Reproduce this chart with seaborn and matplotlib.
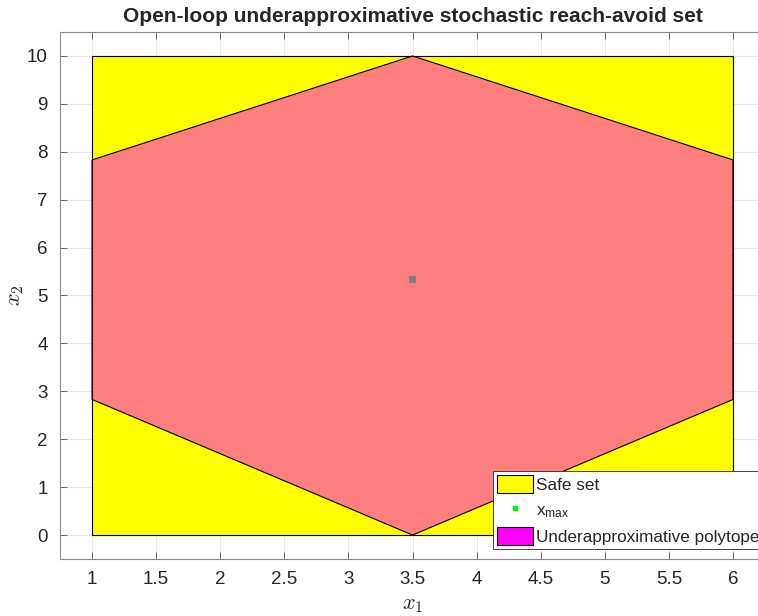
import matplotlib
matplotlib.use("Agg")
import matplotlib.pyplot as plt
import seaborn as sns
import pandas as pd
from matplotlib.patches import Patch
from matplotlib.lines import Line2D

# safe set box and underapproximative polytope
safe_x = [1, 6, 6, 1]
safe_y = [0, 0, 10, 10]
poly_x = [1, 3.5, 6, 6, 3.5, 1]
poly_y = [2.83, 0, 2.83, 7.83, 10, 7.83]
xmax_pt = pd.DataFrame({"x1": [3.5], "x2": [5.33]})

x_ticks = [1, 1.5, 2, 2.5, 3, 3.5, 4, 4.5, 5, 5.5, 6]
x_labels = ["1", "1.5", "2", "2.5", "3", "3.5", "4", "4.5", "5", "5.5", "6"]
y_ticks = list(range(0, 11))

sns.set_style("whitegrid")
plt.rcParams["font.family"] = ["Liberation Sans", "DejaVu Sans"]

W, H = 758, 616
fig = plt.figure(figsize=(W / 100, H / 100), dpi=100)
ax = fig.add_axes([60 / W, (H - 559) / H, 705 / W, (559 - 32) / H])

ax.fill(safe_x, safe_y, facecolor="yellow", edgecolor="black", linewidth=0.8, zorder=2)
sns.scatterplot(data=xmax_pt, x="x1", y="x2", marker="s", color=(0, 1, 0), s=30,
                edgecolor="none", ax=ax, zorder=3)
ax.fill(poly_x, poly_y, facecolor="magenta", alpha=0.5, edgecolor="none", zorder=4)
ax.fill(poly_x, poly_y, facecolor="none", edgecolor="black", linewidth=0.8, zorder=5)

ax.set_xlim(0.75, 6.25)
ax.set_ylim(-0.5, 10.5)
ax.set_xticks(x_ticks)
ax.set_xticklabels(x_labels)
ax.set_yticks(y_ticks)
ax.grid(True, color="#e6e6e6", linewidth=0.8)
ax.set_axisbelow(True)
ax.tick_params(direction="in", length=5, width=0.6, color="#555555",
               labelsize=13.5, labelcolor="#262626", top=True, right=True,
               bottom=True, left=True, pad=9)
for s in ax.spines.values():
    s.set_color("#8c8c8c")
    s.set_linewidth(0.8)

ax.set_xlabel("$x_1$", fontsize=16, math_fontfamily="cm", color="#262626", labelpad=4)
ax.set_ylabel("$x_2$", fontsize=16, math_fontfamily="cm", color="#262626")
ax.yaxis.set_label_coords(-0.048, 0.5)
ax.set_title("Open-loop underapproximative stochastic reach-avoid set",
             fontsize=15, fontweight="bold", pad=7)

handles = [
    Patch(facecolor="yellow", edgecolor="black", linewidth=0.8),
    Line2D([], [], marker="s", linestyle="none", color=(0, 1, 0), markersize=3.5),
    Patch(facecolor="magenta", edgecolor="black", linewidth=0.8),
]
labels = ["Safe set", "$\\mathregular{x_{max}}$", "Underapproximative polytope"]
leg = fig.legend(handles, labels, loc="upper left", bbox_to_anchor=(493 / W, 1 - 471 / H),
                 fontsize=12.3, frameon=True, fancybox=False, framealpha=1,
                 edgecolor="#262626", borderpad=0.25, labelspacing=0.45,
                 handlelength=2.1, handleheight=1.2, handletextpad=0.15, borderaxespad=0)
leg.get_frame().set_linewidth(0.6)

fig.savefig("out.png", dpi=100)
